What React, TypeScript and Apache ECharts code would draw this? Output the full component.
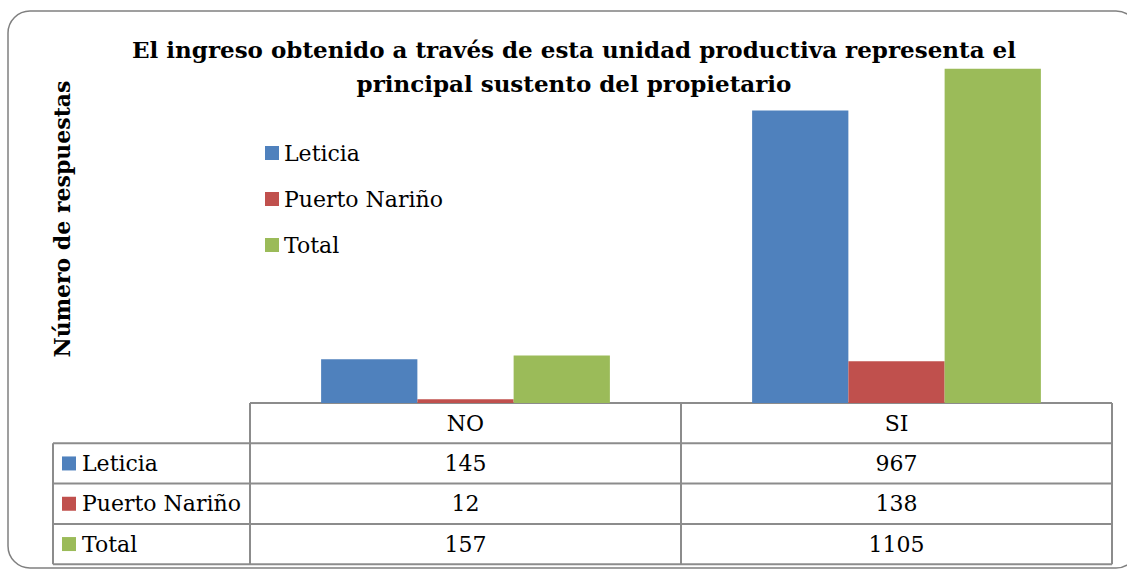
import React, { useEffect, useRef } from "react";
import * as echarts from "echarts";

const categories = ["NO", "SI"];
const seriesNames = ["Leticia", "Puerto Nariño", "Total"];
const leticia = [145, 967];
const puertoNarino = [12, 138];
const total = [157, 1105];
const colors = ["#4F81BD", "#C0504D", "#9BBB59"];
const titleLines = [
  "El ingreso obtenido a través de esta unidad productiva representa el",
  "principal sustento del propietario",
];
const yAxisTitle = "Número de respuestas";

export default function App() {
  const ref = useRef<HTMLDivElement>(null);
  useEffect(() => {
    if (!ref.current) return;
    const chart = echarts.init(ref.current, null, { renderer: "svg" });
    const W = 1127;
    const gridLeft = 250;
    const gridRight = 15;
    const axisY = 403;
    const tableTop = axisY;
    const rowH = 40.3;
    const labelLeft = 53;
    const plotW = W - gridLeft - gridRight;
    const colW = plotW / categories.length;
    const font = "DejaVu Serif";
    const lineColor = "#8c8c8c";
    const allSeries = [leticia, puertoNarino, total];
    const fs = 22;

    const g: any[] = [];
    // outer border
    g.push({
      type: "rect",
      shape: { x: 8, y: 11, width: 1130, height: 557, r: 22 },
      style: { fill: "none", stroke: "#808080", lineWidth: 1.5 },
      z: 0,
    });
    // title
    titleLines.forEach((t, i) => {
      g.push({
        type: "text",
        x: 574,
        y: 49 + i * 34,
        style: {
          text: t,
          font: `bold 23px "${font}"`,
          fill: "#000",
          textAlign: "center",
          textVerticalAlign: "middle",
        },
      });
    });
    // y axis title
    g.push({
      type: "text",
      x: 62,
      y: 219,
      rotation: Math.PI / 2,
      style: {
        text: yAxisTitle,
        font: `bold 22px "${font}"`,
        fill: "#000",
        textAlign: "center",
        textVerticalAlign: "middle",
      },
    });
    const tableBottom = tableTop + rowH * 4;
    // horizontal lines
    g.push({
      type: "line",
      shape: { x1: gridLeft, y1: tableTop, x2: W - gridRight, y2: tableTop },
      style: { stroke: lineColor, lineWidth: 2 },
    });
    for (let r = 1; r <= 4; r++) {
      const y = tableTop + rowH * r;
      g.push({
        type: "line",
        shape: { x1: labelLeft, y1: y, x2: W - gridRight, y2: y },
        style: { stroke: lineColor, lineWidth: 2 },
      });
    }
    // vertical lines
    g.push({
      type: "line",
      shape: { x1: labelLeft, y1: tableTop + rowH, x2: labelLeft, y2: tableBottom },
      style: { stroke: lineColor, lineWidth: 2 },
    });
    for (let c = 0; c <= categories.length; c++) {
      const x = gridLeft + colW * c;
      g.push({
        type: "line",
        shape: { x1: x, y1: tableTop, x2: x, y2: tableBottom },
        style: { stroke: lineColor, lineWidth: 2 },
      });
    }
    // header
    categories.forEach((cat, c) => {
      g.push({
        type: "text",
        x: gridLeft + colW * (c + 0.5),
        y: tableTop + rowH * 0.5,
        style: {
          text: cat,
          font: `${fs}px "${font}"`,
          fill: "#000",
          textAlign: "center",
          textVerticalAlign: "middle",
        },
      });
    });
    // rows
    seriesNames.forEach((name, r) => {
      const cy = tableTop + rowH * (r + 1.5);
      g.push({
        type: "rect",
        shape: { x: 62, y: cy - 7, width: 14, height: 14 },
        style: { fill: colors[r] },
      });
      g.push({
        type: "text",
        x: 82,
        y: cy,
        style: {
          text: name,
          font: `${fs}px "${font}"`,
          fill: "#000",
          textAlign: "left",
          textVerticalAlign: "middle",
        },
      });
      allSeries[r].forEach((v, c) => {
        g.push({
          type: "text",
          x: gridLeft + colW * (c + 0.5),
          y: cy,
          style: {
            text: String(v),
            font: `${fs}px "${font}"`,
            fill: "#000",
            textAlign: "center",
            textVerticalAlign: "middle",
          },
        });
      });
    });

    chart.setOption({
      animation: false,
      backgroundColor: "#fff",
      grid: { left: gridLeft, right: gridRight, top: 40, bottom: 569 - axisY },
      legend: {
        orient: "vertical",
        left: 260,
        top: 137,
        itemWidth: 14,
        itemHeight: 14,
        itemGap: 24,
        icon: "rect",
        textStyle: { fontFamily: font, fontSize: fs, color: "#000" },
        data: seriesNames,
      },
      xAxis: {
        type: "category",
        data: categories,
        axisLine: { show: false },
        axisTick: { show: false },
        axisLabel: { show: false },
      },
      yAxis: {
        type: "value",
        min: 0,
        max: 1200,
        axisLine: { show: false },
        axisTick: { show: false },
        axisLabel: { show: false },
        splitLine: { show: false },
      },
      series: allSeries.map((d, i) => ({
        name: seriesNames[i],
        type: "bar",
        data: d,
        barGap: "0%",
        barCategoryGap: "33%",
        itemStyle: { color: colors[i] },
      })),
      graphic: g,
    });
    return () => chart.dispose();
  }, []);
  return (
    <div
      ref={ref}
      style={{ position: "fixed", left: 0, top: 0, width: 1127, height: 569 }}
    />
  );
}
